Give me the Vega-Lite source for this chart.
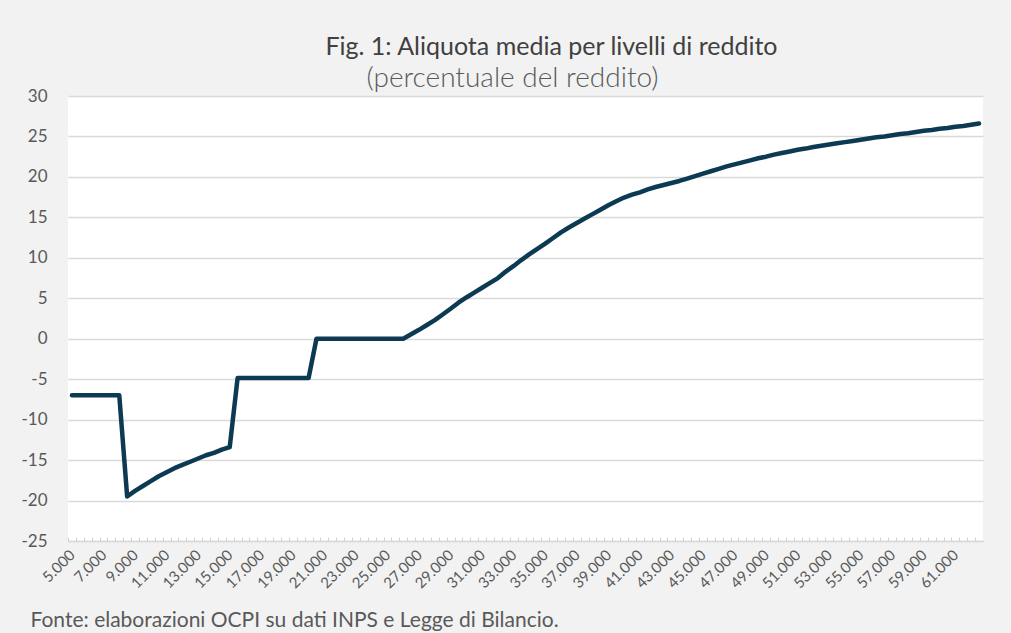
{
  "$schema": "https://vega.github.io/schema/vega-lite/v6.json",
  "autosize": {"type": "none"},
  "width": 915,
  "height": 445,
  "padding": {"left": 68, "top": 96, "right": 28, "bottom": 92},
  "background": "#f2f2f2",
  "config": {
    "view": {"fill": "white", "stroke": null},
    "font": "Lato"
  },
  "title": {
    "text": "Fig. 1: Aliquota media per livelli di reddito",
    "anchor": "middle",
    "font": "Lato",
    "fontSize": 25,
    "fontWeight": "normal",
    "color": "#404040",
    "baseline": "alphabetic",
    "dx": 26,
    "offset": -16
  },
  "data": {
    "values": [
      {"reddito": 5000, "aliquota": -7.0},
      {"reddito": 5500, "aliquota": -7.0},
      {"reddito": 6000, "aliquota": -7.0},
      {"reddito": 6500, "aliquota": -7.0},
      {"reddito": 7000, "aliquota": -7.0},
      {"reddito": 7500, "aliquota": -7.0},
      {"reddito": 8000, "aliquota": -7.0},
      {"reddito": 8500, "aliquota": -19.5},
      {"reddito": 9000, "aliquota": -18.8},
      {"reddito": 9500, "aliquota": -18.2},
      {"reddito": 10000, "aliquota": -17.6},
      {"reddito": 10500, "aliquota": -17.0},
      {"reddito": 11000, "aliquota": -16.5},
      {"reddito": 11500, "aliquota": -16.0},
      {"reddito": 12000, "aliquota": -15.6},
      {"reddito": 12500, "aliquota": -15.2},
      {"reddito": 13000, "aliquota": -14.8},
      {"reddito": 13500, "aliquota": -14.4},
      {"reddito": 14000, "aliquota": -14.1},
      {"reddito": 14500, "aliquota": -13.7},
      {"reddito": 15000, "aliquota": -13.4},
      {"reddito": 15500, "aliquota": -4.85},
      {"reddito": 16000, "aliquota": -4.85},
      {"reddito": 16500, "aliquota": -4.85},
      {"reddito": 17000, "aliquota": -4.85},
      {"reddito": 17500, "aliquota": -4.85},
      {"reddito": 18000, "aliquota": -4.85},
      {"reddito": 18500, "aliquota": -4.85},
      {"reddito": 19000, "aliquota": -4.85},
      {"reddito": 19500, "aliquota": -4.85},
      {"reddito": 20000, "aliquota": -4.85},
      {"reddito": 20500, "aliquota": 0},
      {"reddito": 21000, "aliquota": 0},
      {"reddito": 21500, "aliquota": 0},
      {"reddito": 22000, "aliquota": 0},
      {"reddito": 22500, "aliquota": 0},
      {"reddito": 23000, "aliquota": 0},
      {"reddito": 23500, "aliquota": 0},
      {"reddito": 24000, "aliquota": 0},
      {"reddito": 24500, "aliquota": 0},
      {"reddito": 25000, "aliquota": 0},
      {"reddito": 25500, "aliquota": 0},
      {"reddito": 26000, "aliquota": 0},
      {"reddito": 26500, "aliquota": 0.55},
      {"reddito": 27000, "aliquota": 1.1},
      {"reddito": 27500, "aliquota": 1.7},
      {"reddito": 28000, "aliquota": 2.3},
      {"reddito": 28500, "aliquota": 3.0},
      {"reddito": 29000, "aliquota": 3.7},
      {"reddito": 29500, "aliquota": 4.45},
      {"reddito": 30000, "aliquota": 5.1},
      {"reddito": 30500, "aliquota": 5.7},
      {"reddito": 31000, "aliquota": 6.3},
      {"reddito": 31500, "aliquota": 6.9},
      {"reddito": 32000, "aliquota": 7.5},
      {"reddito": 32500, "aliquota": 8.3},
      {"reddito": 33000, "aliquota": 9.0},
      {"reddito": 33500, "aliquota": 9.75},
      {"reddito": 34000, "aliquota": 10.45},
      {"reddito": 34500, "aliquota": 11.1},
      {"reddito": 35000, "aliquota": 11.75},
      {"reddito": 35500, "aliquota": 12.45},
      {"reddito": 36000, "aliquota": 13.15},
      {"reddito": 36500, "aliquota": 13.75},
      {"reddito": 37000, "aliquota": 14.3},
      {"reddito": 37500, "aliquota": 14.85},
      {"reddito": 38000, "aliquota": 15.4},
      {"reddito": 38500, "aliquota": 15.95},
      {"reddito": 39000, "aliquota": 16.5},
      {"reddito": 39500, "aliquota": 17.0},
      {"reddito": 40000, "aliquota": 17.45},
      {"reddito": 40500, "aliquota": 17.8},
      {"reddito": 41000, "aliquota": 18.1},
      {"reddito": 41500, "aliquota": 18.45},
      {"reddito": 42000, "aliquota": 18.75},
      {"reddito": 42500, "aliquota": 19.0},
      {"reddito": 43000, "aliquota": 19.25},
      {"reddito": 43500, "aliquota": 19.5},
      {"reddito": 44000, "aliquota": 19.8},
      {"reddito": 44500, "aliquota": 20.1},
      {"reddito": 45000, "aliquota": 20.4},
      {"reddito": 45500, "aliquota": 20.7},
      {"reddito": 46000, "aliquota": 21.0},
      {"reddito": 46500, "aliquota": 21.3},
      {"reddito": 47000, "aliquota": 21.55},
      {"reddito": 47500, "aliquota": 21.8},
      {"reddito": 48000, "aliquota": 22.05},
      {"reddito": 48500, "aliquota": 22.3},
      {"reddito": 49000, "aliquota": 22.5},
      {"reddito": 49500, "aliquota": 22.75},
      {"reddito": 50000, "aliquota": 22.95},
      {"reddito": 50500, "aliquota": 23.15},
      {"reddito": 51000, "aliquota": 23.35},
      {"reddito": 51500, "aliquota": 23.5},
      {"reddito": 52000, "aliquota": 23.7},
      {"reddito": 52500, "aliquota": 23.85},
      {"reddito": 53000, "aliquota": 24.0},
      {"reddito": 53500, "aliquota": 24.15},
      {"reddito": 54000, "aliquota": 24.3},
      {"reddito": 54500, "aliquota": 24.45},
      {"reddito": 55000, "aliquota": 24.6},
      {"reddito": 55500, "aliquota": 24.75},
      {"reddito": 56000, "aliquota": 24.9},
      {"reddito": 56500, "aliquota": 25.0},
      {"reddito": 57000, "aliquota": 25.15},
      {"reddito": 57500, "aliquota": 25.3},
      {"reddito": 58000, "aliquota": 25.4},
      {"reddito": 58500, "aliquota": 25.55},
      {"reddito": 59000, "aliquota": 25.7},
      {"reddito": 59500, "aliquota": 25.8},
      {"reddito": 60000, "aliquota": 25.95},
      {"reddito": 60500, "aliquota": 26.05},
      {"reddito": 61000, "aliquota": 26.2},
      {"reddito": 61500, "aliquota": 26.3},
      {"reddito": 62000, "aliquota": 26.45},
      {"reddito": 62500, "aliquota": 26.6}
    ]
  },
  "mark": {"type": "line", "color": "#0c3a52", "strokeWidth": 4.5, "strokeCap": "round", "strokeJoin": "round"},
  "encoding": {
    "x": {
      "field": "reddito",
      "type": "quantitative",
      "scale": {"domain": [4750, 62750], "nice": false, "zero": false},
      "axis": {
        "values": [5000,5500,6000,6500,7000,7500,8000,8500,9000,9500,10000,10500,11000,11500,12000,12500,13000,13500,14000,14500,15000,15500,16000,16500,17000,17500,18000,18500,19000,19500,20000,20500,21000,21500,22000,22500,23000,23500,24000,24500,25000,25500,26000,26500,27000,27500,28000,28500,29000,29500,30000,30500,31000,31500,32000,32500,33000,33500,34000,34500,35000,35500,36000,36500,37000,37500,38000,38500,39000,39500,40000,40500,41000,41500,42000,42500,43000,43500,44000,44500,45000,45500,46000,46500,47000,47500,48000,48500,49000,49500,50000,50500,51000,51500,52000,52500,53000,53500,54000,54500,55000,55500,56000,56500,57000,57500,58000,58500,59000,59500,60000,60500,61000,61500,62000,62500,63000],
        "labelExpr": "(datum.value - 5000) % 2000 == 0 && datum.value <= 61000 ? replace(format(datum.value, ','), ',', '.') : ''",
        "labelAngle": -45,
        "labelAlign": "right",
        "labelBaseline": "middle",
        "labelFont": "Lato",
        "labelFontSize": 15,
        "labelColor": "#595959",
        "labelOverlap": false,
        "labelBound": false,
        "labelFlush": false,
        "labelPadding": 15,
        "labelOffset": 3.94,
        "tickOffset": -3.94,
        "tickSize": -4,
        "tickColor": "#d0d0d0",
        "tickWidth": 1,
        "domainColor": "#d9d9d9",
        "domainWidth": 1.5,
        "grid": false,
        "title": "Fonte: elaborazioni OCPI su dati INPS e Legge di Bilancio.",
        "titleFont": "Lato",
        "titleFontSize": 21,
        "titleFontWeight": "normal",
        "titleColor": "#595959",
        "titleAnchor": "start",
        "titleAlign": "left",
        "titleBaseline": "alphabetic",
        "titleX": -38,
        "titleY": 85
      }
    },
    "y": {
      "field": "aliquota",
      "type": "quantitative",
      "scale": {"domain": [-25, 30], "nice": false, "zero": false},
      "axis": {
        "values": [-25,-20,-15,-10,-5,0,5,10,15,20,25,30],
        "labelExpr": "datum.value < 0 ? '-' + abs(datum.value) : '' + datum.value",
        "title": "(percentuale del reddito)",
        "titleAngle": 0,
        "titleFont": "Lato",
        "titleFontSize": 28,
        "titleFontWeight": 300,
        "titleColor": "#595959",
        "titleAlign": "center",
        "titleAnchor": null,
        "titleBaseline": "alphabetic",
        "titleX": 444,
        "titleY": -10,
        "domain": false,
        "ticks": false,
        "grid": true,
        "gridColor": "#d9d9d9",
        "gridWidth": 1.5,
        "labelFont": "Lato",
        "labelFontSize": 17,
        "labelColor": "#595959",
        "labelPadding": 21
      }
    }
  }
}
